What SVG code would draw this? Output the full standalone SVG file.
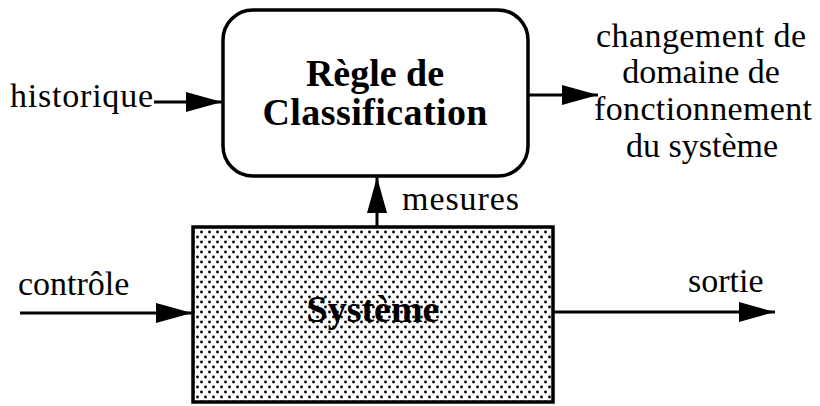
<svg xmlns="http://www.w3.org/2000/svg" width="820" height="406" viewBox="0 0 820 406">
<defs>
<style>
.t{font-family:"Liberation Serif","Times New Roman",serif;font-size:34px;fill:#000}
.b{font-family:"Liberation Serif","Times New Roman",serif;font-size:38px;font-weight:bold;fill:#000}
.ln{stroke:#000;stroke-width:3;fill:none}
.box{stroke:#000;stroke-width:3.5}
</style>
<pattern id="dots" width="8" height="10" patternUnits="userSpaceOnUse">
<rect width="8" height="10" fill="#fff"/>
<circle cx="1.5" cy="2" r="1.4" fill="#000"/>
<circle cx="5.5" cy="7" r="1.4" fill="#000"/>
</pattern>
<marker id="ah" viewBox="0 0 36 20" refX="36" refY="10" markerWidth="36" markerHeight="20" markerUnits="userSpaceOnUse" orient="auto">
<path d="M0,0 L36,10 L0,20 Z" fill="#000"/>
</marker>
</defs>
<g id="regle">
<rect class="box" x="223" y="10" width="305" height="166" rx="30" ry="30" fill="#fff"/>
<text class="b" x="375" y="86" text-anchor="middle">Règle de</text>
<text class="b" x="375" y="125" text-anchor="middle" textLength="225">Classification</text>
</g>
<g id="systeme">
<rect class="box" x="193" y="227" width="360" height="175" fill="url(#dots)"/>
<text class="b" x="373" y="322" text-anchor="middle">Système</text>
</g>
<g id="connectors">
<line class="ln" x1="154" y1="102" x2="222" y2="102" marker-end="url(#ah)"/>
<line class="ln" x1="529" y1="95" x2="598" y2="95" marker-end="url(#ah)"/>
<line class="ln" x1="377" y1="226" x2="377" y2="177" marker-end="url(#ah)"/>
<line class="ln" x1="20" y1="313" x2="192" y2="313" marker-end="url(#ah)"/>
<line class="ln" x1="554" y1="312" x2="775" y2="312" marker-end="url(#ah)"/>
</g>
<g id="labels">
<text class="t" x="10" y="107" textLength="143">historique</text>
<text class="t" x="402" y="210" textLength="117">mesures</text>
<text class="t" x="18" y="295">contrôle</text>
<text class="t" x="688" y="292">sortie</text>
<text class="t" x="701" y="47" text-anchor="middle" textLength="210">changement de</text>
<text class="t" x="701" y="83" text-anchor="middle">domaine de</text>
<text class="t" x="703" y="120" text-anchor="middle" textLength="218">fonctionnement</text>
<text class="t" x="702" y="157" text-anchor="middle">du système</text>
</g>
</svg>
